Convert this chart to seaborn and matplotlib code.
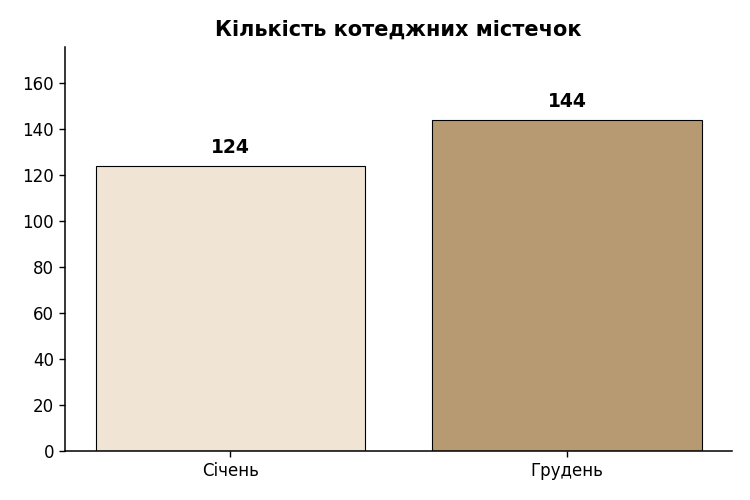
import pandas as pd
import seaborn as sns
import matplotlib.pyplot as plt

months = ['Січень', 'Грудень']
counts = [124, 144]
bar_colors = ['#F0E4D4', '#B89A72']

sns.set_style('ticks')
plt.rcParams['font.family'] = ['DejaVu Sans']
plt.rcParams['text.color'] = 'black'
plt.rcParams['xtick.color'] = 'black'
plt.rcParams['ytick.color'] = 'black'
plt.rcParams['axes.edgecolor'] = 'black'

df = pd.DataFrame({'month': months, 'count': counts})

fig = plt.figure(figsize=(7.5, 5), dpi=100)
ax = fig.add_axes([0.087, 0.098, 0.889, 0.808])
sns.barplot(ax=ax, data=df, x='month', y='count', hue='month', palette=bar_colors,
            legend=False, width=0.8, edgecolor='black', linewidth=0.8, saturation=1)

for i, v in enumerate(counts):
    ax.text(i, v + 4, str(v), ha='center', va='bottom', fontsize=13.5, fontweight='bold')

ax.set_title('Кількість котеджних містечок', fontsize=15, fontweight='bold', pad=8)
ax.set_xlabel('')
ax.set_ylabel('')
ax.set_xlim(-0.49, 1.49)
ax.set_ylim(0, 175.7)
ax.set_yticks(range(0, 161, 20))
ax.tick_params(labelsize=12, length=4.5, width=1)
for s in ax.spines.values():
    s.set_linewidth(1.1)
sns.despine(ax=ax)

fig.savefig('out.png', dpi=100)
